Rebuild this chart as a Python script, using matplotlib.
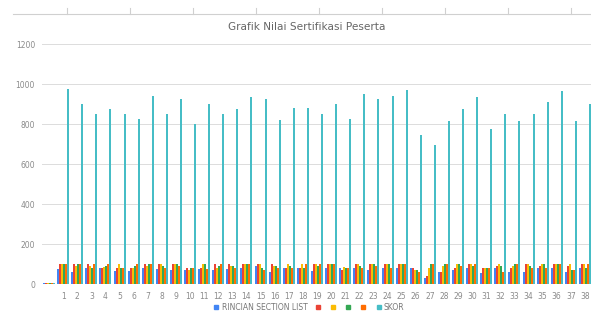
import numpy as np
import matplotlib
matplotlib.use("Agg")
import matplotlib.pyplot as plt
from matplotlib.lines import Line2D

# --- data ---
peserta = [""] + [str(i) for i in range(1, 39)]

rincian = [3, 75, 60, 80, 80, 65, 65, 80, 75, 70, 70, 75, 70, 75, 80, 90, 60, 80, 80, 65,
           80, 80, 80, 70, 80, 80, 80, 30, 60, 70, 80, 55, 80, 60, 60, 80, 80, 60, 80]
seri_merah = [3, 100, 100, 100, 80, 80, 80, 100, 100, 100, 80, 80, 100, 100, 100, 100, 100, 80, 80, 100,
              100, 70, 100, 100, 100, 100, 80, 40, 60, 80, 100, 80, 90, 80, 100, 90, 100, 90, 100]
seri_kuning = [3, 100, 90, 90, 85, 100, 80, 90, 100, 100, 70, 100, 80, 90, 100, 100, 90, 100, 100, 100,
               100, 85, 100, 100, 100, 100, 70, 80, 90, 100, 100, 80, 100, 90, 100, 100, 100, 100, 100]
seri_hijau = [3, 100, 100, 80, 90, 80, 90, 100, 90, 100, 80, 100, 90, 90, 100, 80, 90, 90, 80, 90,
              100, 80, 90, 100, 100, 100, 70, 100, 100, 100, 90, 80, 90, 100, 90, 100, 100, 70, 80]
seri_oranye = [3, 100, 100, 100, 100, 80, 100, 100, 80, 90, 80, 75, 100, 80, 100, 70, 80, 80, 100, 100,
               100, 80, 80, 90, 80, 100, 60, 100, 100, 90, 100, 80, 60, 100, 80, 80, 100, 70, 100]
skor = [3, 973, 900, 850, 873, 850, 823, 940, 850, 923, 800, 900, 850, 873, 937, 923, 820, 878, 878, 850,
        900, 823, 950, 923, 940, 970, 745, 695, 817, 875, 937, 773, 848, 815, 848, 908, 967, 815, 900]

series = [rincian, seri_merah, seri_kuning, seri_hijau, seri_oranye, skor]
labels = ["RINCIAN SECTION LIST", "", "", "", "", "SKOR"]
colors = ["#4285F4", "#EA4335", "#FBBC04", "#34A853", "#FF6D01", "#46BDC6"]

# --- figure ---
fig = plt.figure(figsize=(5.91, 3.16), dpi=100)
ax = fig.add_axes([42 / 591, 32 / 316, 550 / 591, 240 / 316])

x = np.arange(len(peserta))
w = 0.142
for i, (vals, col) in enumerate(zip(series, colors)):
    ax.bar(x + (i - 2.5) * w, vals, width=w, color=col, linewidth=0, zorder=2)

ax.set_xlim(-0.5, len(peserta) - 0.5)
ax.set_ylim(0, 1200)
ax.set_yticks(range(0, 1201, 200))
ax.set_xticks(x)
ax.set_xticklabels(peserta)
ax.tick_params(axis="both", length=0, labelsize=5.5, labelcolor="#8a8a8a")
ax.tick_params(axis="x", pad=6)
ax.tick_params(axis="y", pad=5)
ax.grid(axis="y", color="#dcdcdc", linewidth=0.7, zorder=0)
for s in ax.spines.values():
    s.set_visible(False)

fig.text(307 / 591, 1 - 27 / 316, "Grafik Nilai Sertifikasi Peserta",
         ha="center", va="center", fontsize=7.6, color="#666666")

# ruler line at the top of the page
fig.add_artist(Line2D([13 / 591, 1], [1 - 14 / 316] * 2, color="#d0d0d0", lw=0.8))
for tx in range(67, 591, 63):
    fig.add_artist(Line2D([tx / 591] * 2, [1 - 14 / 316, 1 - 8 / 316], color="#d0d0d0", lw=0.8))

handles = [Line2D([], [], marker="s", linestyle="none", markersize=3.5,
                  markerfacecolor=c, markeredgecolor=c) for c in colors]
fig.legend(handles, labels, loc="center", bbox_to_anchor=(309 / 591, 1 - 307 / 316),
           ncol=6, frameon=False, fontsize=5.5, labelcolor="#777777",
           handlelength=0.8, handletextpad=0.3, columnspacing=0.9, borderaxespad=0)

fig.savefig("out.png", dpi=100)
